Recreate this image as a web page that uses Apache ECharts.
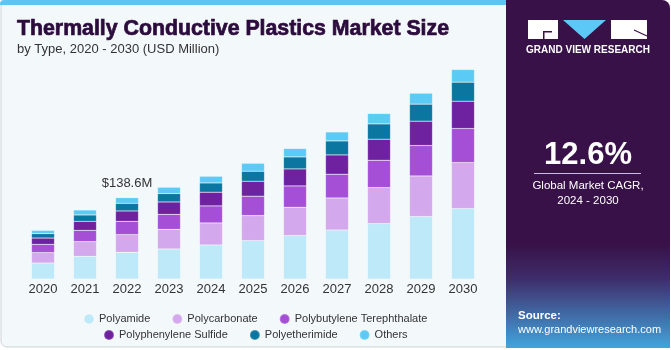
<!DOCTYPE html>
<html>
<head>
<meta charset="utf-8">
<script src="https://cdn.jsdelivr.net/npm/echarts@6/dist/echarts.min.js"></script>
<style>
  html, body { margin: 0; padding: 0; background: #ffffff; }
  #chart { width: 671px; height: 350px; }
</style>
</head>
<body>
<div id="chart"></div>
<script>
// values (USD Million)
var years = ['2020', '2021', '2022', '2023', '2024', '2025', '2026', '2027', '2028', '2029', '2030'];
var polyamide     = [27.2, 38.6, 45.4, 51.1, 57.9, 65.4, 73.9, 83.4, 94.3, 106.3, 119.9];
var polycarbonate = [17.7, 25.0, 30.1, 33.5, 37.5, 42.6, 48.2, 54.5, 61.3, 69.1, 78.3];
var pbt           = [14.1, 19.3, 22.7, 25.5, 29.0, 32.9, 36.3, 40.4, 46.5, 51.8, 57.9];
var pps           = [10.7, 15.3, 17.6, 21.0, 23.3, 25.5, 29.0, 32.9, 35.8, 41.4, 46.5];
var pei           = [7.5, 10.8, 13.0, 14.3, 15.8, 17.0, 20.4, 23.8, 26.1, 29.0, 32.4];
var others        = [5.6, 8.5, 9.7, 10.8, 11.4, 13.6, 14.3, 15.3, 17.7, 18.7, 21.6];

var seriesNames = ['Polyamide', 'Polycarbonate', 'Polybutylene Terephthalate',
                   'Polyphenylene Sulfide', 'Polyetherimide', 'Others'];
var seriesData = [polyamide, polycarbonate, pbt, pps, pei, others];
var colors = ['#bde9f8', '#d4a8ec', '#a44fd6', '#6f22a0', '#0b76a0', '#5bcbf5'];

var labelIndex = 2;
var labelText = '$138.6M';

var font = '"Liberation Sans", Arial, sans-serif';

var chart = echarts.init(document.getElementById('chart'));

var series = seriesNames.map(function (name, i) {
    var s = {
        name: name,
        type: 'bar',
        stack: 'total',
        barWidth: 23,
        itemStyle: { color: colors[i], borderColor: 'rgba(255,255,255,0.25)', borderWidth: 0.6 },
        data: seriesData[i].slice()
    };
    if (i === seriesNames.length - 1) {
        s.data = seriesData[i].map(function (v, k) {
            if (k !== labelIndex) return v;
            return {
                value: v,
                label: {
                    show: true, position: 'top', distance: 8,
                    formatter: labelText, color: '#333', fontSize: 13, fontFamily: font
                }
            };
        });
    }
    return s;
});

var legendText = { color: '#333', fontSize: 11, fontFamily: font };

var option = {
    animation: false,
    backgroundColor: '#ffffff',
    textStyle: { fontFamily: font },
    grid: { left: 22, right: 187, top: 44, bottom: 71 },
    xAxis: {
        type: 'category',
        data: years,
        axisLine: { show: false },
        axisTick: { show: false },
        axisLabel: { color: '#333', fontSize: 13, margin: 4, fontFamily: font }
    },
    yAxis: {
        type: 'value', min: 0, max: 400,
        show: false, splitLine: { show: false }
    },
    legend: [
        {
            data: seriesNames.slice(0, 3),
            left: 78, top: 308,
            icon: 'circle', itemWidth: 10, itemHeight: 10, itemGap: 21,
            textStyle: legendText
        },
        {
            data: seriesNames.slice(3),
            left: 98, top: 324,
            icon: 'circle', itemWidth: 10, itemHeight: 10, itemGap: 21,
            textStyle: legendText
        }
    ],
    graphic: [
        // left light panel
        { type: 'rect', z: -10, shape: { x: 1, y: 0, width: 520, height: 347, r: 6 },
          style: { fill: '#f3f8fb', stroke: '#cfd3d6', lineWidth: 1 } },
        { type: 'rect', z: -9, shape: { x: 0, y: 0, width: 512, height: 5, r: [4, 0, 0, 0] },
          style: { fill: '#5cc6f0' } },
        // right dark panel
        { type: 'rect', z: -8, shape: { x: 506, y: 0, width: 164, height: 348, r: [0, 8, 0, 0] },
          style: {
              fill: new echarts.graphic.LinearGradient(0, 0, 0, 1, [
                  { offset: 0, color: '#381148' },
                  { offset: 0.7, color: '#381148' },
                  { offset: 0.8, color: '#3e2c6a' },
                  { offset: 1, color: '#42a4dc' }
              ])
          } },
        // logo
        { type: 'rect', z: 10, shape: { x: 528, y: 20, width: 30, height: 19 }, style: { fill: '#ffffff' } },
        { type: 'rect', z: 11, shape: { x: 543, y: 31, width: 9, height: 1.5 }, style: { fill: '#381148' } },
        { type: 'rect', z: 11, shape: { x: 543, y: 31, width: 1.5, height: 8 }, style: { fill: '#381148' } },
        { type: 'polygon', z: 10, shape: { points: [[563, 20], [606, 20], [584.5, 39]] }, style: { fill: '#5bc8f5' } },
        { type: 'rect', z: 10, shape: { x: 611, y: 20, width: 36, height: 19 }, style: { fill: '#ffffff' } },
        { type: 'line', z: 11, shape: { x1: 634, y1: 30, x2: 647, y2: 36 }, style: { stroke: '#381148', lineWidth: 1.2 } },
        { type: 'text', z: 10, style: {
            text: 'GRAND VIEW RESEARCH', x: 588, y: 50, align: 'center', verticalAlign: 'middle',
            fill: '#ffffff', font: 'bold 10px ' + font } },
        // CAGR block
        { type: 'text', z: 10, style: {
            text: '12.6%', x: 588, y: 155, align: 'center', verticalAlign: 'middle',
            fill: '#ffffff', font: 'bold 31px ' + font } },
        { type: 'line', z: 10, shape: { x1: 534, y1: 173.5, x2: 641, y2: 173.5 },
          style: { stroke: '#c9bfd0', lineWidth: 1 } },
        { type: 'text', z: 10, style: {
            text: 'Global Market CAGR,', x: 588, y: 186, align: 'center', verticalAlign: 'middle',
            fill: '#ffffff', font: '11.5px ' + font } },
        { type: 'text', z: 10, style: {
            text: '2024 - 2030', x: 588, y: 201, align: 'center', verticalAlign: 'middle',
            fill: '#ffffff', font: '11.5px ' + font } },
        // source
        { type: 'text', z: 10, style: {
            text: 'Source:', x: 518, y: 316, align: 'left', verticalAlign: 'middle',
            fill: '#ffffff', font: 'bold 11.5px ' + font } },
        { type: 'text', z: 10, style: {
            text: 'www.grandviewresearch.com', x: 518, y: 330, align: 'left', verticalAlign: 'middle',
            fill: '#ffffff', font: '11px ' + font } },
        // titles
        { type: 'text', z: 10, style: {
            text: 'Thermally Conductive Plastics Market Size', x: 17, y: 29.5, align: 'left', verticalAlign: 'middle',
            fill: '#2c0c3c', stroke: '#2c0c3c', lineWidth: 0.7, font: 'bold 21.3px ' + font } },
        { type: 'text', z: 10, style: {
            text: 'by Type, 2020 - 2030 (USD Million)', x: 17, y: 49, align: 'left', verticalAlign: 'middle',
            fill: '#333333', font: '13px ' + font } }
    ],
    series: series
};

chart.setOption(option);
</script>
</body>
</html>
